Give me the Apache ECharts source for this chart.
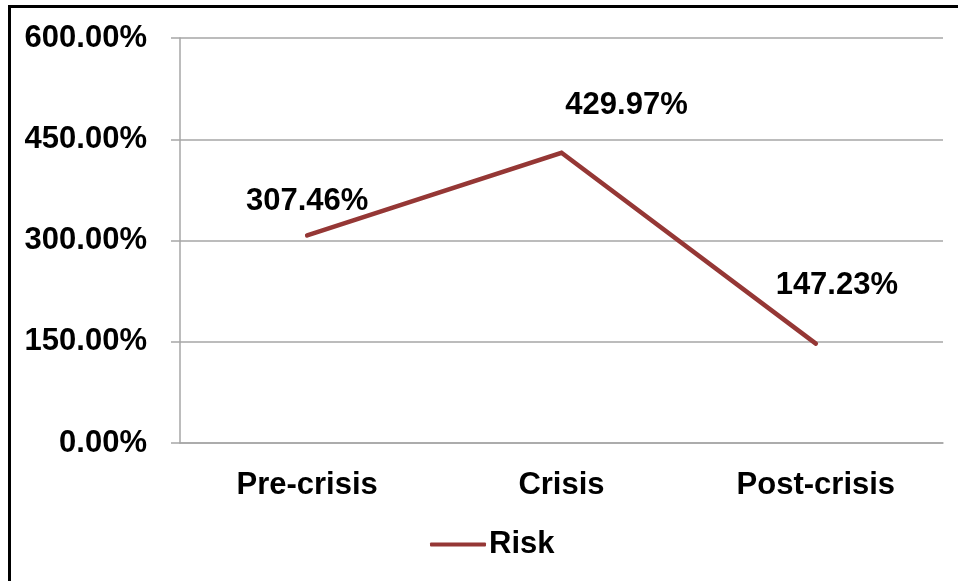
<!DOCTYPE html>
<html>
<head>
<meta charset="utf-8">
<script src="https://cdn.jsdelivr.net/npm/echarts@6/dist/echarts.min.js"></script>
<style>
  html, body { margin: 0; padding: 0; background: #fff; }
  #chart { width: 958px; height: 581px; }
</style>
</head>
<body>
<div id="chart"></div>
<script>
// Risk across the three periods
const categories = ['Pre-crisis', 'Crisis', 'Post-crisis'];
const riskValues = [307.46, 429.97, 147.23];
const yTicks = [0, 150, 300, 450, 600];
const seriesName = 'Risk';

// Hand-placed label offsets, as in the original chart layout
const labelOffsets = [[0, -18], [65, -32], [21, -43]];

const FONT = '"Liberation Sans", Arial, sans-serif';
const FONT_SIZE = 31;
const LINE_COLOR = '#953735';
const GRID_COLOR = '#a6a6a6';

const chart = echarts.init(document.getElementById('chart'), null, { renderer: 'canvas' });

chart.setOption({
  backgroundColor: '#fff',
  animation: false,
  textStyle: { fontFamily: FONT },
  grid: { left: 180, right: 15, top: 38, bottom: 138, containLabel: false },
  legend: {
    data: [{ name: seriesName, icon: 'roundRect' }],
    left: 425,
    top: 524,
    itemWidth: 56,
    itemHeight: 4,
    itemGap: 10,
    textStyle: { fontFamily: FONT, fontSize: FONT_SIZE, fontWeight: 'bold', color: '#000', padding: [0, 0, 0, -2] }
  },
  xAxis: {
    type: 'category',
    data: categories,
    boundaryGap: true,
    axisLine: { show: true, lineStyle: { color: GRID_COLOR, width: 1.5 } },
    axisTick: { show: false },
    axisLabel: { margin: 27, color: '#000', fontSize: FONT_SIZE, fontWeight: 'bold', fontFamily: FONT }
  },
  yAxis: {
    type: 'value',
    min: yTicks[0],
    max: yTicks[yTicks.length - 1],
    interval: yTicks[1] - yTicks[0],
    axisLine: { show: true, lineStyle: { color: GRID_COLOR, width: 1.5 } },
    axisTick: { show: true, length: 9, lineStyle: { color: GRID_COLOR, width: 1.5 } },
    splitLine: { show: true, lineStyle: { color: GRID_COLOR, width: 1.5 } },
    axisLabel: {
      margin: 33,
      color: '#000',
      fontSize: FONT_SIZE,
      fontWeight: 'bold',
      fontFamily: FONT,
      padding: [4, 0, 0, 0],
      formatter: v => v.toFixed(2) + '%'
    }
  },
  series: [{
    name: seriesName,
    type: 'line',
    data: riskValues.map((v, i) => ({
      value: v,
      label: { offset: labelOffsets[i] }
    })),
    symbol: 'circle',
    symbolSize: 0.1,
    lineStyle: { color: LINE_COLOR, width: 4.5, cap: 'round', join: 'miter' },
    itemStyle: { color: LINE_COLOR },
    label: {
      show: true,
      position: 'top',
      distance: 0,
      color: '#000',
      fontSize: FONT_SIZE,
      fontWeight: 'bold',
      fontFamily: FONT,
      formatter: p => p.value.toFixed(2) + '%'
    }
  }],
  graphic: [
    { type: 'rect', shape: { x: 8, y: 5, width: 3, height: 576 }, style: { fill: '#000' }, silent: true },
    { type: 'rect', shape: { x: 8, y: 5, width: 950, height: 3 }, style: { fill: '#000' }, silent: true }
  ]
});
</script>
</body>
</html>
